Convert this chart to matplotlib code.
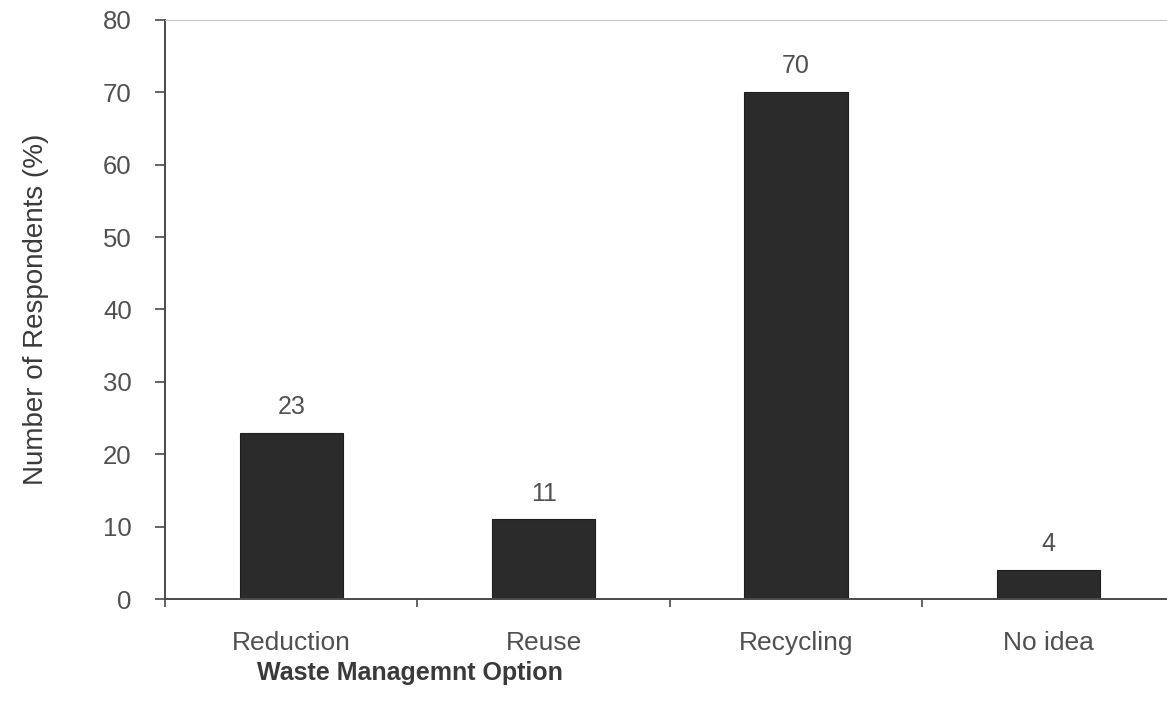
import matplotlib.pyplot as plt
from matplotlib.ticker import FixedLocator

plt.rcParams['font.family'] = ['Liberation Sans', 'DejaVu Sans']

# data
options = ['Reduction', 'Reuse', 'Recycling', 'No idea']
respondents = [23, 11, 70, 4]
yticks = [0, 10, 20, 30, 40, 50, 60, 70, 80]

bar_color = '#2b2b2b'
text_grey = '#505050'
axis_grey = '#4a4a4a'

fig = plt.figure(figsize=(11.67, 7.09), dpi=100)
ax = fig.add_axes((0.1415, 0.155, 0.865, 0.817))

pos = list(range(len(options)))
bars = ax.bar(pos, respondents, width=0.41, color=bar_color, edgecolor='#1e1e1e', linewidth=0.8)

# value labels above each bar
for x, v in zip(pos, respondents):
    ax.annotate(str(v), (x, v), xytext=(0, 10), textcoords='offset points',
                ha='center', va='bottom', fontsize=18, color=text_grey)

ax.set_xlim(-0.5, len(options) - 0.5)
ax.set_ylim(0, 80)
ax.set_yticks(yticks)

# category labels at centres, tick marks at category boundaries
ax.set_xticks(pos)
ax.set_xticklabels(options)
ax.xaxis.set_minor_locator(FixedLocator([p - 0.5 for p in pos] + [len(options) - 0.5]))
ax.tick_params(axis='x', which='major', length=0, pad=23, labelsize=19, labelcolor=text_grey)
ax.tick_params(axis='x', which='minor', length=6, width=1.2, color=axis_grey, direction='out')
ax.tick_params(axis='y', length=7, width=1.2, color=axis_grey, pad=17, labelsize=18.5, labelcolor=text_grey)

for side in ['left', 'bottom']:
    ax.spines[side].set_color(axis_grey)
    ax.spines[side].set_linewidth(1.4)
ax.spines['top'].set_color('#c8c8c8')
ax.spines['top'].set_linewidth(0.8)
ax.spines['right'].set_visible(False)

ax.set_ylabel('Number of Respondents (%)', fontsize=20, color='#3a3a3a')
ax.yaxis.set_label_coords(-0.115, 0.5)
ax.set_xlabel('Waste Managemnt Option', fontsize=18, fontweight='bold', color='#3a3a3a')
ax.xaxis.set_label_coords(0.243, -0.107)

fig.savefig('out.png', dpi=100)
